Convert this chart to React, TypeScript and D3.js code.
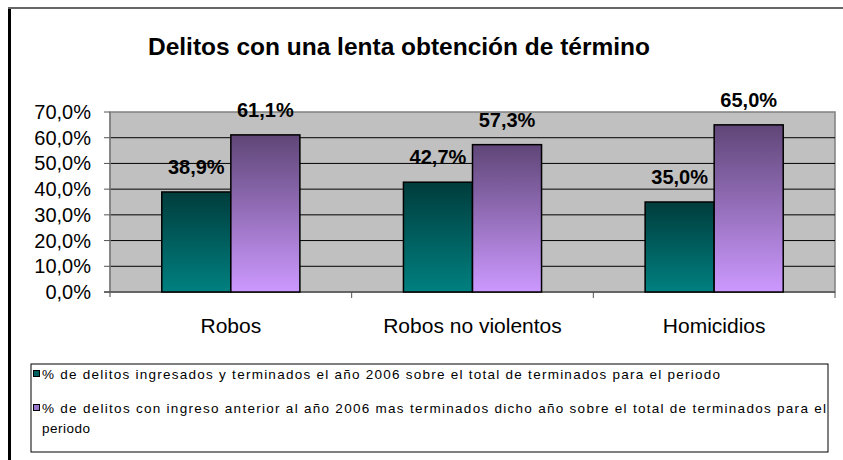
import React from "react";
import * as d3 from "d3";

const title = "Delitos con una lenta obtención de término";
const categories = ["Robos", "Robos no violentos", "Homicidios"];
const seriesNames = [
  "% de delitos ingresados y terminados el año 2006 sobre el total de terminados para el periodo",
  "% de delitos con ingreso anterior al año 2006 mas terminados dicho año sobre el total de terminados para el periodo",
];
const series1 = [38.9, 42.7, 35.0];
const series2 = [61.1, 57.3, 65.0];
const yTicks = [0, 10, 20, 30, 40, 50, 60, 70];

const W = 843;
const H = 460;
const plot = { left: 110, top: 112, right: 835, bottom: 292 };
const font = "'Liberation Sans', Arial, sans-serif";

const fmt = (v: number) => v.toFixed(1).replace(".", ",") + "%";

export default function App() {
  const x0 = d3
    .scaleBand<string>()
    .domain(categories)
    .range([plot.left, plot.right])
    .paddingInner(0)
    .paddingOuter(0);
  const bw = x0.bandwidth() / 3.5;
  const y = d3.scaleLinear().domain([0, 70]).range([plot.bottom, plot.top]);
  const seriesData = [series1, series2];
  const fills = ["url(#gTeal)", "url(#gPurple)"];

  const leg2a = "% de delitos con ingreso anterior al año 2006 mas terminados dicho año sobre el total de terminados para el";
  const leg2b = seriesNames[1].slice(leg2a.length + 1);

  return (
    <svg
      width={W}
      height={H}
      style={{ position: "absolute", left: 0, top: 0, background: "#fff" }}
      fontFamily={font}
    >
      <defs>
        <linearGradient id="gTeal" x1="0" y1="0" x2="0" y2="1">
          <stop offset="0" stopColor="#003c3c" />
          <stop offset="1" stopColor="#008080" />
        </linearGradient>
        <linearGradient id="gPurple" x1="0" y1="0" x2="0" y2="1">
          <stop offset="0" stopColor="#5f4677" />
          <stop offset="1" stopColor="#cc99ff" />
        </linearGradient>
      </defs>
      {/* outer frame */}
      <line x1={9.5} y1={8} x2={9.5} y2={H} stroke="#000" strokeWidth={3} />
      <line x1={8} y1={8} x2={W} y2={8} stroke="#666" strokeWidth={2} />

      <text
        x={399}
        y={55}
        textAnchor="middle"
        fontSize={24}
        fontWeight="bold"
        fill="#000"
        textLength={502}
        lengthAdjust="spacingAndGlyphs"
      >
        {title}
      </text>

      {/* plot area */}
      <rect
        x={plot.left}
        y={plot.top}
        width={plot.right - plot.left}
        height={plot.bottom - plot.top}
        fill="#c0c0c0"
        stroke="#808080"
        strokeWidth={1.5}
      />
      {yTicks.slice(1, -1).map((t) => (
        <line
          key={"g" + t}
          x1={plot.left}
          x2={plot.right}
          y1={y(t)}
          y2={y(t)}
          stroke="#000"
          strokeWidth={1}
        />
      ))}
      {/* y axis */}
      <line x1={plot.left} x2={plot.left} y1={plot.top} y2={plot.bottom + 5} stroke="#808080" strokeWidth={1.5} />
      {yTicks.map((t) => (
        <g key={"t" + t}>
          <line x1={plot.left - 6} x2={plot.left} y1={y(t)} y2={y(t)} stroke="#555" strokeWidth={1} />
          <text x={91} y={y(t) + 7} textAnchor="end" fontSize={20} fill="#000">
            {fmt(t)}
          </text>
        </g>
      ))}
      {/* x axis */}
      <line x1={plot.left - 6} x2={plot.right} y1={plot.bottom} y2={plot.bottom} stroke="#555" strokeWidth={1.5} />
      {categories.map((c, i) => (
        <line
          key={"xt" + i}
          x1={(x0(c) as number) + x0.bandwidth()}
          x2={(x0(c) as number) + x0.bandwidth()}
          y1={plot.bottom}
          y2={plot.bottom + 6}
          stroke="#555"
          strokeWidth={1}
        />
      ))}

      {/* bars */}
      {categories.map((c, i) => {
        const cx = (x0(c) as number) + x0.bandwidth() / 2;
        return (
          <g key={"b" + i}>
            {seriesData.map((s, j) => {
              const bx = cx - bw + j * bw;
              return (
                <g key={j}>
                  <rect
                    x={bx}
                    y={y(s[i])}
                    width={bw}
                    height={y(0) - y(s[i])}
                    fill={fills[j]}
                    stroke="#000"
                    strokeWidth={1.5}
                  />
                  <text
                    x={bx + bw / 2}
                    y={y(s[i]) - 18}
                    textAnchor="middle"
                    fontSize={20}
                    fontWeight="bold"
                    fill="#000"
                  >
                    {fmt(s[i])}
                  </text>
                </g>
              );
            })}
            <text x={cx} y={333} textAnchor="middle" fontSize={21} fill="#000">
              {c}
            </text>
          </g>
        );
      })}

      {/* legend */}
      <rect x={31} y={364} width={797} height={88} fill="#fff" stroke="#000" strokeWidth={1} />
      <rect x={33.5} y={370.5} width={6} height={6} fill="#006060" stroke="#000" strokeWidth={1} />
      <text x={42} y={379} fontSize={13.5} fill="#000" textLength={678} lengthAdjust="spacing">
        {seriesNames[0]}
      </text>
      <rect x={33.5} y={404.5} width={6} height={6} fill="#9977cc" stroke="#000" strokeWidth={1} />
      <text x={42} y={413} fontSize={13.5} fill="#000" textLength={784} lengthAdjust="spacing">
        {leg2a}
      </text>
      <text x={42} y={433} fontSize={13.5} fill="#000" textLength={48} lengthAdjust="spacing">
        {leg2b}
      </text>
    </svg>
  );
}
